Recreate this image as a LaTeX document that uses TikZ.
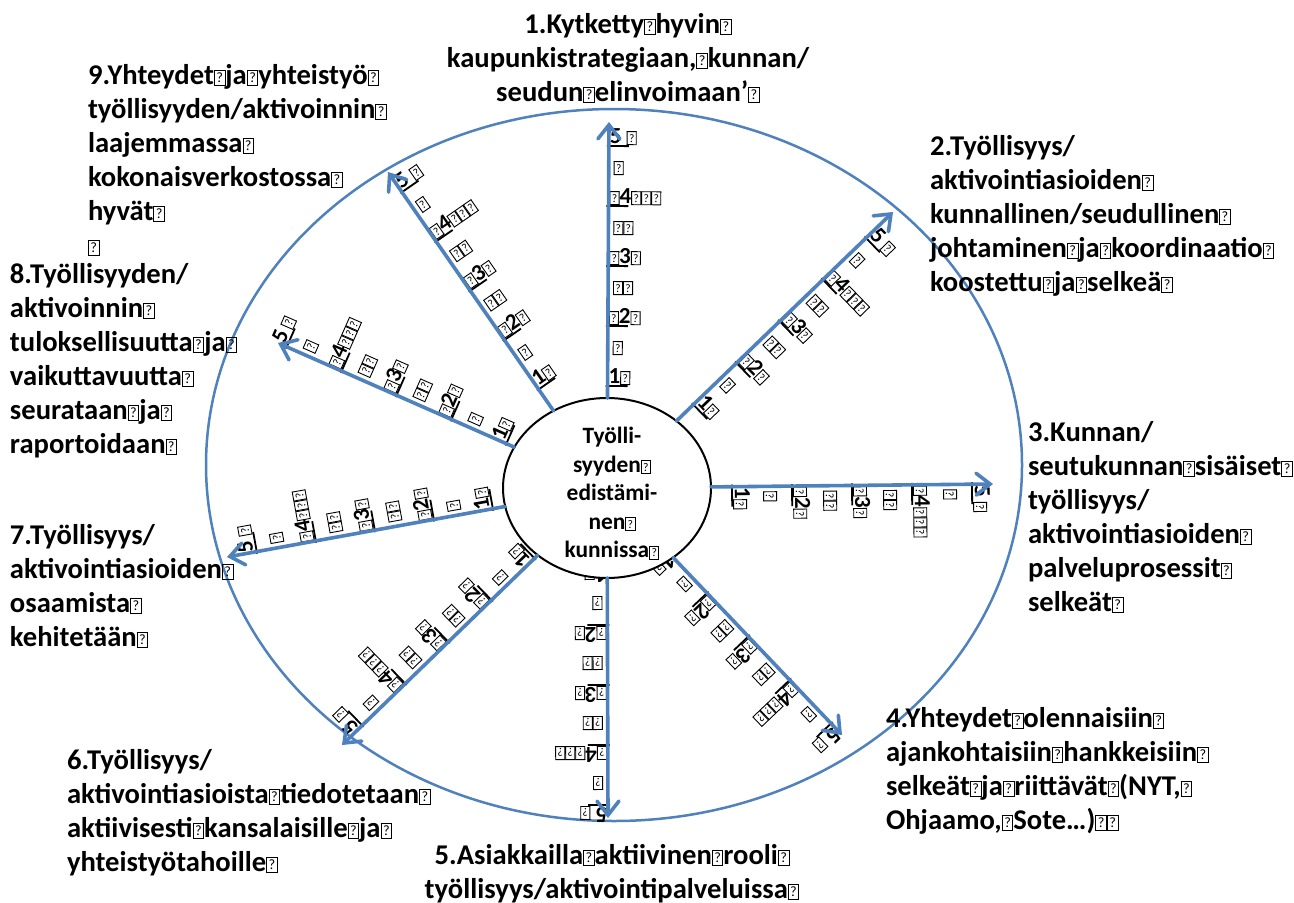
\documentclass[tikz,border=0pt]{standalone}
\usepackage{fontspec}
\setmainfont{Carlito}
\usetikzlibrary{arrows.meta,shapes.geometric}
\definecolor{axisblue}{HTML}{4F81BD}
% placeholder glyph: a small frame with a question mark
\newcommand\qb{{\fboxsep=0.5pt\fboxrule=0.45pt\fbox{\rule{0pt}{0.44em}\makebox[0.27em]{\raisebox{0.04em}{\scalebox{0.5}{\mdseries ?}}}}}}
\tikzset{
  every node/.style={inner sep=0pt, outer sep=0pt},
  lbl/.style={font=\fontsize{14.3}{17}\selectfont\bfseries, align=left, anchor=north west},
  lblc/.style={font=\fontsize{14.3}{17}\selectfont\bfseries, align=center, anchor=north},
  hubtext/.style={font=\fontsize{11.7}{14.3}\selectfont\bfseries, align=center, anchor=north},
  num/.style={font=\fontsize{11.5}{12}\selectfont\bfseries, transform shape},
  tickline/.style={draw=black, line width=0.9pt},
  axisarrow/.style={draw=axisblue, line width=1.8pt, line cap=round,
    -{Straight Barb[length=7pt,width=11pt,line cap=round]}},
}
% graduation 1..5 along a spoke: #1 angle, #2 distance of first mark, #3 name prefix
\newcommand\scalemarks[3]{%
  \begin{scope}[shift={(607,414)}, rotate=#1-90]
    \foreach \i/\t in {1/{1\qb}, 2/{\qb2\qb}, 3/{\qb3\qb}, 4/{\qb4\qb\qb\qb}, 5/{5\ \qb}} {
      \pgfmathsetmacro\d{#2+60*(\i-1)}
      \draw[tickline] (-2,\d) -- (20,\d);
      \node[num, anchor=south west] (#3-\i) at (1,\d+1) {\t};
    }
    \foreach \i/\t in {1/{\qb}, 2/{\qb\qb}, 3/{\qb\qb}, 4/{\qb}} {
      \pgfmathsetmacro\d{#2+60*(\i-1)+38}
      \node[num, anchor=west] (#3-b\i) at (5,\d) {\t};
    }
  \end{scope}}
\begin{document}
\begin{tikzpicture}[x=0.5pt, y=0.5pt]
  \useasboundingbox (0,0) rectangle (1294,902);
  \fill[white] (0,0) rectangle (1294,902);

  % outer ring
  \node[draw=axisblue, line width=1.25pt, ellipse, minimum width=408pt, minimum height=356pt] (ring) at (614,437) {};

  % graduations on the nine spokes
  \scalemarks{89.7}{102}{s1}
  \scalemarks{44.0}{120}{s2}
  \scalemarks{0.6}{125}{s3}
  \scalemarks{-46.4}{85}{s4}
  \scalemarks{-89.8}{77}{s5}
  \scalemarks{224.1}{101}{s6}
  \scalemarks{190.3}{116}{s7}
  \scalemarks{156.2}{110}{s8}
  \scalemarks{124.7}{120}{s9}

  % hub
  \node[draw=black, line width=1pt, fill=white, ellipse, minimum width=104pt, minimum height=90pt] (hub) at (607,414) {};
  \node[hubtext] (hubt) at (612,475) {Työlli-\\syyden\qb\\edistämi-\\nen\qb\\kunnissa\qb};

  % spoke ends
  \coordinate (t1) at (609,780);
  \coordinate (t2) at (893,690);
  \coordinate (t3) at (993,418);
  \coordinate (t4) at (842,167);
  \coordinate (t5) at (608,84);
  \coordinate (t6) at (342,157);
  \coordinate (t7) at (227,345);
  \coordinate (t8) at (278,559);
  \coordinate (t9) at (388,730);
  \foreach \k in {1,...,9} \draw[axisarrow] (hub) -- (t\k);

  % criteria
  \node[lblc] (c1) at (628,889) {1.Kytketty\qb hyvin\qb\\kaupunkistrategiaan,\qb kunnan/\\seudun\qb elinvoimaan’\qb};
  \node[lbl] (c2) at (930,767) {2.Työllisyys/\\aktivointiasioiden\qb\\kunnallinen/seudullinen\qb\\johtaminen\qb ja\qb koordinaatio\qb\\koostettu\qb ja\qb selkeä\qb};
  \node[lbl] (c3) at (1028,481) {3.Kunnan/\\seutukunnan\qb sisäiset\qb\\työllisyys/\\aktivointiasioiden\qb\\palveluprosessit\qb\\selkeät\qb};
  \node[lbl] (c4) at (886,195) {4.Yhteydet\qb olennaisiin\qb\\ajankohtaisiin\qb hankkeisiin\qb\\selkeät\qb ja\qb riittävät\qb(NYT,\qb\\Ohjaamo,\qb Sote…)\qb\qb};
  \node[lblc] (c5) at (612,58) {5.Asiakkailla\qb aktiivinen\qb rooli\qb\\työllisyys/aktivointipalveluissa\qb};
  \node[lbl] (c6) at (67,153) {6.Työllisyys/\\aktivointiasioista\qb tiedotetaan\qb\\aktiivisesti\qb kansalaisille\qb ja\qb\\yhteistyötahoille\qb};
  \node[lbl] (c7) at (10,378) {7.Työllisyys/\\aktivointiasioiden\qb\\osaamista\qb\\kehitetään\qb};
  \node[lbl] (c8) at (10,639) {8.Työllisyyden/\\aktivoinnin\qb\\tuloksellisuutta\qb ja\qb\\vaikuttavuutta\qb\\seurataan\qb ja\qb\\raportoidaan\qb};
  \node[lbl] (c9) at (88,838) {9.Yhteydet\qb ja\qb yhteistyö\qb\\työllisyyden/aktivoinnin\qb\\laajemmassa\qb\\kokonaisverkostossa\qb\\hyvät\qb\\\qb};
\end{tikzpicture}
\end{document}
